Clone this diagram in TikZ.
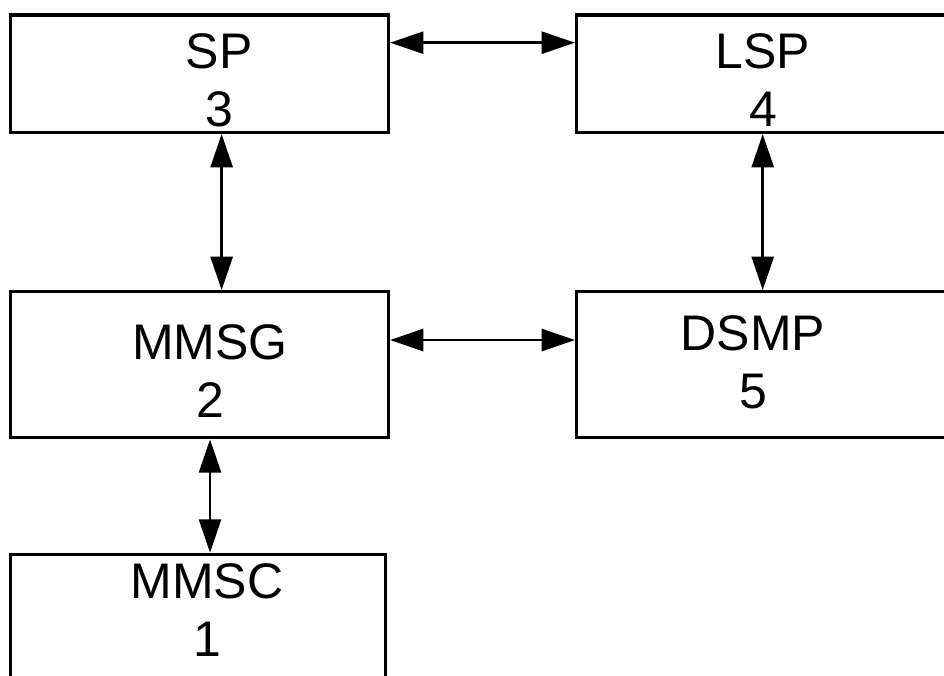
\documentclass[tikz,border=0pt]{standalone}
\usepackage{fontspec}
\setmainfont{Liberation Sans}
\usepackage{tikz}
\usetikzlibrary{arrows.meta}
\usetikzlibrary{positioning}
\usetikzlibrary{calc}

\tikzset{
  unitbox/.style={draw, line width=2.3pt, inner sep=0pt, minimum width=283.5pt, minimum height=88.1pt},
  tallbox/.style={unitbox, minimum height=109.7pt},
  tag/.style={inner sep=0pt, align=center, font=\fontsize{37.5pt}{43.5pt}\selectfont},
  link/.style={line width=2pt, {Triangle[length=25pt,width=16.5pt]}-{Triangle[length=25pt,width=16.5pt]}}
}

\begin{document}
\begin{tikzpicture}[x=0.75pt,y=0.75pt,yscale=-1,xscale=1]
\useasboundingbox (0,0) rectangle (944,675); %page is 944 by 675
\clip (0,0) rectangle (944,675);

%Shape: Rectangle [SP]
\node[unitbox] (sp) at (199.5,73.75) {};
%Shape: Rectangle [LSP]
\node[unitbox] (lsp) at (765.5,73.75) {};
%Shape: Rectangle [MMSG]
\node[tallbox] (mmsg) at (199.5,364.7) {};
%Shape: Rectangle [DSMP]
\node[tallbox] (dsmp) at (765.5,364.7) {};
%Shape: Rectangle [MMSC]
\node[tallbox, minimum width=281.5pt] (mmsc) at (198.2,627.3) {};

%Straight Lines [SP - LSP]
\draw[link] ([yshift=-23.3pt]sp.east) -- ([yshift=-23.3pt]lsp.west);
%Straight Lines [MMSG - DSMP]
\draw[link] ([yshift=-18.5pt]mmsg.east) -- ([yshift=-18.5pt]dsmp.west);
%Straight Lines [SP - MMSG]
\draw[link] ([xshift=16.6pt]sp.south) -- ([xshift=16.6pt]mmsg.north);
%Straight Lines [LSP - DSMP]
\draw[link] ([xshift=-2.1pt]lsp.south) -- ([xshift=-2.1pt]dsmp.north);
%Straight Lines [MMSG - MMSC]
\draw[link] ([xshift=7.9pt]mmsg.south) -- ([xshift=7.9pt]mmsg.south |- mmsc.north);

% Text Node
\node[tag] (sp-t) at (219,80) {SP\\3};
% Text Node
\node[tag] (lsp-t) at (763,80) {LSP\\4};
% Text Node
\node[tag] (mmsg-t) at (210,371.5) {MMSG\\2};
% Text Node
\node[tag] (dsmp-t) at (753,362.7) {DSMP\\5};
% Text Node
\node[tag] (mmsc-t) at (207,610) {MMSC\\1};

\end{tikzpicture}
\end{document}
